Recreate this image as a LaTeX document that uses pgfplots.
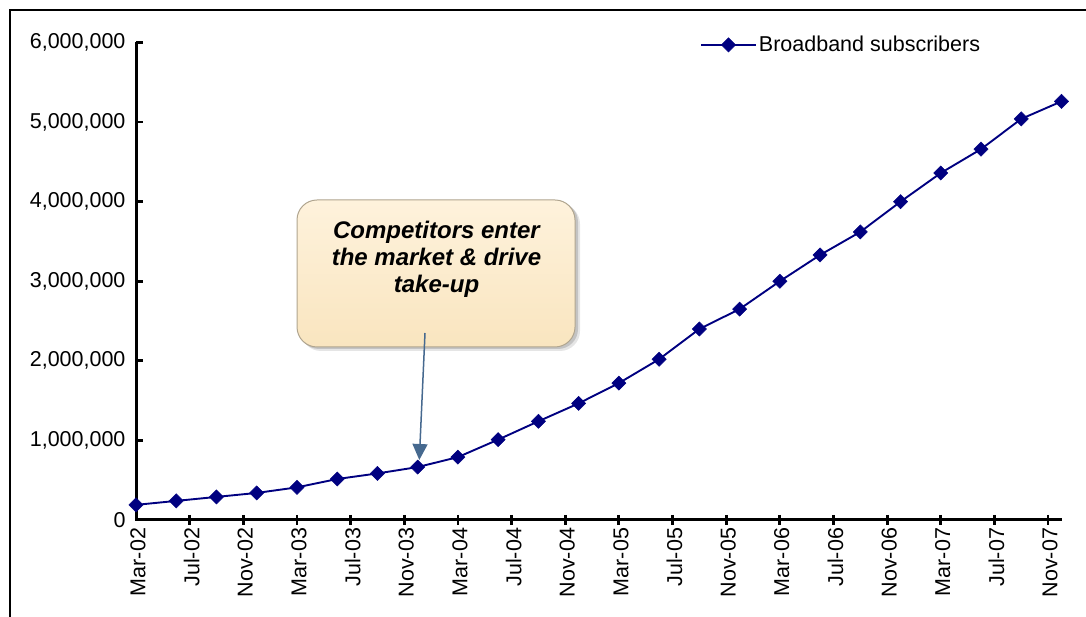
\documentclass[border=0pt]{standalone}
\usepackage{fontspec}
\setmainfont{Liberation Sans}
\usepackage{pgfplots}
\pgfplotsset{compat=1.18}
\usetikzlibrary{arrows.meta}

\definecolor{seriesblue}{HTML}{000080}
\definecolor{calloutTop}{HTML}{FEF2DC}
\definecolor{calloutBottom}{HTML}{F9E5BF}
\definecolor{calloutEdge}{HTML}{B0A58F}
\definecolor{arrowblue}{HTML}{46698F}

% Quarterly broadband subscriber counts; x = months since Mar-02
\pgfplotstableread{
month subscribers
0   190000
3   240000
6   290000
9   340000
12  410000
15  515000
18  585000
21  665000
24  790000
27  1010000
30  1240000
33  1465000
36  1720000
39  2020000
42  2400000
45  2650000
48  3000000
51  3330000
54  3620000
57  4000000
60  4360000
63  4660000
66  5040000
69  5260000
}\subscribers

\begin{document}
\begin{tikzpicture}[x=1pt,y=1pt]
\useasboundingbox (0,0) rectangle (1086,617);
\clip (0,0) rectangle (1086,617);
% chart frame
\draw[line width=1.3pt] (10,-20) -- (10,607) -- (1100,607);

\begin{axis}[
  at={(136pt,97pt)}, anchor=south west, scale only axis,
  width=925.5pt, height=477.5pt,
  xmin=0, xmax=69, ymin=0, ymax=6000000,
  axis x line*=bottom, axis y line*=left,
  xtick pos=bottom, ytick pos=left,
  axis line style={draw=none},
  every tick/.style={draw=none},
  xtick align=center, ytick align=inside,
  major tick length=9pt,
  xtick={0,4,8,12,16,20,24,28,32,36,40,44,48,52,56,60,64,68},
  xticklabels={Mar-02,Jul-02,Nov-02,Mar-03,Jul-03,Nov-03,Mar-04,Jul-04,Nov-04,
               Mar-05,Jul-05,Nov-05,Mar-06,Jul-06,Nov-06,Mar-07,Jul-07,Nov-07},
  ytick={0,1000000,2000000,3000000,4000000,5000000,6000000},
  minor tick num=0,
  scaled y ticks=false,
  /pgf/number format/fixed,
  /pgf/number format/1000 sep={,},
  /pgf/number format/assume math mode=true,
  tick label style={font=\fontsize{21.5}{24}\selectfont},
  xticklabel style={rotate=90, anchor=east, yshift=-2pt},
  yticklabel style={xshift=-7pt},
  legend style={draw=none, fill=none, at={(0.606,0.995)}, anchor=west,
                font=\fontsize{21.5}{24}\selectfont},
  legend image code/.code={
    \draw[mark repeat=2, mark phase=2, #1]
      plot coordinates {(0pt,0pt) (27.5pt,0pt) (55pt,0pt)};
  },
  clip=false,
]
% bold axis lines with inside y ticks and crossing x ticks
\pgfplotsinvokeforeach{1000000,2000000,3000000,4000000,5000000,6000000}{
  \draw[black, line width=2.8pt] (axis cs:0,#1) -- ++(7pt,0pt);
}
\pgfplotsinvokeforeach{4,8,12,16,20,24,28,32,36,40,44,48,52,56,60,64,68}{
  \draw[black, line width=2.8pt] (axis cs:#1,0) ++(0pt,5pt) -- ++(0pt,-10pt);
}
\draw[black, line width=3pt] (axis cs:0,6000000) -- (axis cs:0,0)
  -- (axis cs:69,0);

\addplot[seriesblue, line width=1.9pt, mark=square*,
         mark size=5pt,
         mark options={rotate=45, solid, fill=seriesblue, line width=0.5pt}]
  table[x=month, y=subscribers] {\subscribers};
\addlegendentry{Broadband subscribers}
\end{axis}

% callout box with soft shadow
\fill[black, opacity=0.10, rounded corners=20pt] (301,266) rectangle (580,413);
\fill[black, opacity=0.15, rounded corners=20pt] (299,268) rectangle (578,415);
\shade[top color=calloutTop, bottom color=calloutBottom, draw=calloutEdge,
       line width=1pt, rounded corners=20pt] (297,270) rectangle (575,417);
\node[align=center, font=\fontsize{24}{27}\selectfont\bfseries\itshape]
  at (436.5,358) {Competitors enter\\the market \& drive\\take-up};
\draw[arrowblue, line width=1.5pt, -{Triangle[length=16pt, width=15pt]}]
  (425,284) -- (419.3,157);
\end{tikzpicture}
\end{document}
